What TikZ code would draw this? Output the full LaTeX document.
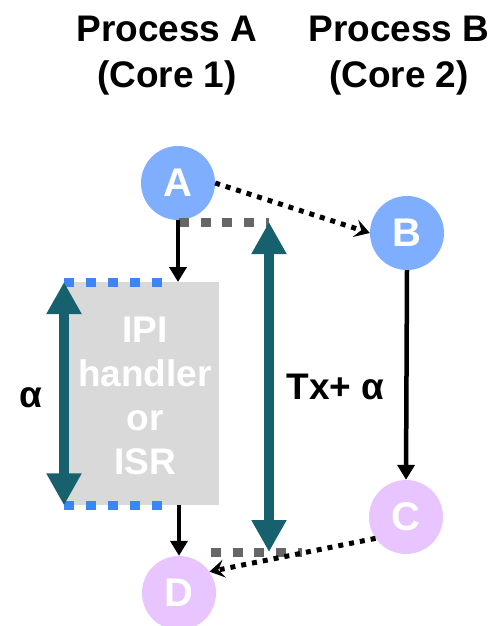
\documentclass[tikz,border=0pt]{standalone}
\usepackage{fontspec}
\setmainfont{Liberation Sans}
\usetikzlibrary{arrows.meta}
\definecolor{blueA}{HTML}{7FAEFF}
\definecolor{purpleC}{HTML}{E8C5FF}
\definecolor{teal}{HTML}{17606E}
\definecolor{boxgray}{HTML}{D9D9D9}
\definecolor{dotgray}{HTML}{666666}
\definecolor{dotblue}{HTML}{3D85F6}
\tikzset{
  big/.style={font=\fontsize{37}{44}\selectfont\bfseries},
  circ/.style={circle, minimum size=74pt, inner sep=0pt, font=\fontsize{40}{44}\selectfont\bfseries, text=white},
  solidarrow/.style={line width=4.5pt, -{Triangle[width=17pt,length=15pt]}},
  dotarrow/.style={line width=5pt, dash pattern=on 5pt off 6pt, -{Stealth[width=18pt,length=15pt,inset=6pt]}},
  tealarrow/.style={teal, line width=10pt, {Triangle[width=33pt,length=32pt]}-{Triangle[width=33pt,length=32pt]}},
  graydots/.style={dotgray, line width=9pt, dash pattern=on 10pt off 11.7pt},
  bluedots/.style={dotblue, line width=9pt, dash pattern=on 10pt off 12pt},
}
\begin{document}
\begin{tikzpicture}[x=1pt,y=-1pt]
\useasboundingbox (0,0) rectangle (498,626);
% headings
\node[align=center, font=\fontsize{37}{46}\selectfont\bfseries] (hA) at (167,56) {Process A\\(Core 1)};
\node[align=center, font=\fontsize{37}{46}\selectfont\bfseries] (hB) at (399,56) {Process B\\(Core 2)};
% box
\node[fill=boxgray, minimum width=155pt, minimum height=223pt, inner sep=0pt, anchor=north west] (box) at (64,282) {};
\node[big, text=white, align=center] (boxtext) at (145,396) {IPI\\handler\\or\\ISR};
% circles
\node[circ, fill=blueA] (A) at (178,183) {A};
\node[circ, fill=blueA] (B) at (407,233) {B};
\node[circ, fill=purpleC] (C) at (406,517) {C};
\node[circ, fill=purpleC] (D) at (179,593) {D};
% dotted markers
\coordinate (t1) at (269,222);
\coordinate (t2) at (269,552);
\draw[graydots] (179,222) -- (t1);
\draw[graydots] (211,552) -- (302,552);
\draw[bluedots] (box.north west) -- ++(98,0);
\draw[bluedots] (box.south west) -- ++(98,0);
% teal arrows
\draw[tealarrow] (box.north west) -- (box.south west);
\draw[tealarrow] (t1) -- (t2);
\node[big] (alpha) at (31,398) {α};
\node[big, anchor=base west] (tx) at (283,399) {Tx+ α};
% black arrows
\draw[solidarrow] (A.south) -- (A.south |- box.north);
\draw[solidarrow] (D.north |- box.south) -- (D.north);
\draw[solidarrow] (B.south) -- (C.north);
\draw[dotarrow] (A.east) -- (B.west);
\draw[dotarrow] (C.215) -- (D.35);
\end{tikzpicture}
\end{document}
